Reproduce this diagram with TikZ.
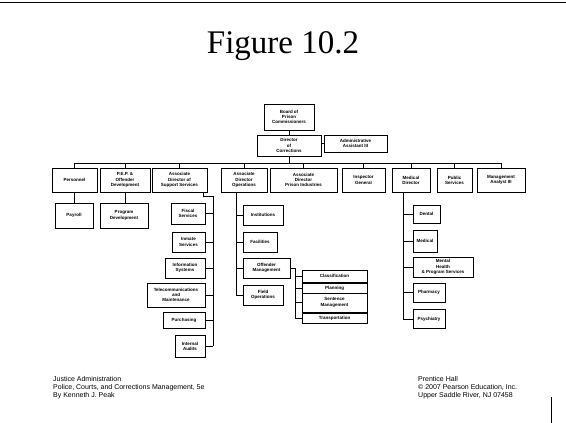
\documentclass[tikz,border=0pt]{standalone}
\usepackage{fontspec}
\setmainfont{Liberation Serif}
\newfontfamily\boxfont{Liberation Sans}
\begin{document}
\begin{tikzpicture}[x=1pt,y=-1pt,
  orgbox/.style={draw=black, line width=0.85pt, inner sep=0pt, align=center,
    font=\boxfont\bfseries\fontsize{4.5}{5.2}\selectfont},
  link/.style={draw=black, line width=0.75pt},
  foot/.style={anchor=north west, align=left, inner sep=0pt,
    font=\boxfont\fontsize{7}{8}\selectfont}]
\useasboundingbox (0,0) rectangle (566,423);

% slide frame
\draw[line width=0.6pt] (0,2.5) -- (566,2.5);
\draw[line width=0.6pt] (551,397) -- (551,423);

% title
\node[font=\fontsize{33}{36}\selectfont] (title) at (283,46) {Figure 10.2};

% top of the chart
\node[orgbox, minimum width=50pt, minimum height=26pt] (board) at (289,117) {Board of\\Prison\\Commissioners};
\node[orgbox, minimum width=64pt, minimum height=21pt] (dir) at (289,145.5) {Director\\of\\Corrections};
\node[orgbox, minimum width=63pt, minimum height=17pt] (admin) at (355.5,143.5) {Administrative\\Assistant III};

% second level
\node[orgbox, minimum width=45pt, minimum height=24pt] (pers) at (74.5,180) {Personnel};
\node[orgbox, minimum width=50pt, minimum height=24pt] (pep) at (125,180) {P.E.P. \&\\Offender\\Development};
\node[orgbox, minimum width=55pt, minimum height=24pt] (supp) at (179.5,180) {Associate\\Director of\\Support Services};
\node[orgbox, minimum width=46pt, minimum height=24pt] (ops) at (244,180) {Associate\\Director\\Operations};
\node[orgbox, minimum width=67pt, minimum height=24pt] (ind) at (303.5,180) {Associate\\Director\\Prison Industries};
\node[orgbox, minimum width=43pt, minimum height=24pt] (ig) at (363.5,180) {Inspector\\General};
\node[orgbox, minimum width=38pt, minimum height=24pt] (med) at (411,180) {Medical\\Director};
\node[orgbox, minimum width=35pt, minimum height=24pt] (pub) at (454.5,180) {Public\\Services};
\node[orgbox, minimum width=48pt, minimum height=24pt] (mgmt) at (501,180) {Management\\Analyst III};

% under personnel and P.E.P.
\node[orgbox, minimum width=38pt, minimum height=25pt] (payroll) at (74,215.5) {Payroll};
\node[orgbox, minimum width=48pt, minimum height=25pt] (progdev) at (124,215.5) {Program\\Development};

% support services
\node[orgbox, minimum width=34pt, minimum height=21pt] (fiscal) at (188,213.5) {Fiscal\\Services};
\node[orgbox, minimum width=33pt, minimum height=20pt] (inmate) at (188.5,242) {Inmate\\Services};
\node[orgbox, minimum width=40pt, minimum height=20pt] (info) at (185,268) {Information\\Systems};
\node[orgbox, minimum width=58pt, minimum height=24pt] (tele) at (176,295) {Telecommunications\\and\\Maintenance};
\node[orgbox, minimum width=42pt, minimum height=16pt] (purch) at (184,320) {Purchasing};
\node[orgbox, minimum width=30pt, minimum height=22pt] (audit) at (190,346) {Internal\\Audits};

% operations
\node[orgbox, minimum width=40pt, minimum height=20pt] (inst) at (263,215) {Institutions};
\node[orgbox, minimum width=34pt, minimum height=20pt] (fac) at (260,242) {Facilities};
\node[orgbox, minimum width=47pt, minimum height=20pt] (om) at (266.5,268) {Offender\\Management};
\node[orgbox, minimum width=40pt, minimum height=20pt] (field) at (263,295) {Field\\Operations};

% offender management
\node[orgbox, minimum width=65pt, minimum height=12pt] (class) at (334.5,276) {Classification};
\node[orgbox, minimum width=65pt, minimum height=10pt] (plan) at (334.5,288) {Planning};
\node[orgbox, minimum width=65pt, minimum height=19pt] (sent) at (334.5,302.5) {Sentence\\Management};
\node[orgbox, minimum width=65pt, minimum height=10pt] (trans) at (334.5,318) {Transportation};

% medical
\node[orgbox, minimum width=27pt, minimum height=18pt] (dental) at (426.5,214) {Dental};
\node[orgbox, minimum width=24pt, minimum height=22pt] (medic) at (425,241) {Medical};
\node[orgbox, minimum width=60pt, minimum height=20pt] (mental) at (443,267) {Mental\\Health\\\& Program Services};
\node[orgbox, minimum width=32pt, minimum height=19pt] (pharm) at (429,292.5) {Pharmacy};
\node[orgbox, minimum width=32pt, minimum height=19pt] (psych) at (429,319) {Psychiatry};

% connectors
\coordinate (busL) at (74.5,163);
\coordinate (busR) at (501,163);
\draw[link] (board) -- (dir);
\draw[link] (admin.west) -- (admin.west -| dir.east);
\draw[link] (dir.south) -- (dir.south |- busL);
\draw[link] (busL) -- (busR);
\foreach \n in {pers,pep,supp,ops,ind,ig,med,pub,mgmt}
  \draw[link] (\n.north |- busL) -- (\n.north);
\draw[link] (pers.south) -- (pers.south |- payroll.north);
\draw[link] (pep.south) -- (pep.south |- progdev.north);

\coordinate (sbot) at (213,346);
\draw[link] ([xshift=-4pt]supp.south east) -- ++(0,4) -| (sbot);
\foreach \n in {fiscal,inmate,info,tele,purch,audit}
  \draw[link] (\n.east) -- (\n.east -| sbot);

\coordinate (obot) at (236,295);
\draw[link] (ops.south -| obot) -- (obot);
\foreach \n in {inst,fac,om,field}
  \draw[link] (\n.west -| obot) -- (\n.west);

\coordinate (mbot) at (295,318);
\draw[link] (om.east) -- (om.east -| mbot) -- (mbot);
\foreach \n in {class,plan,sent,trans}
  \draw[link] (\n.west -| mbot) -- (\n.west);

\coordinate (dbot) at (403,319);
\draw[link] (med.south -| dbot) -- (dbot);
\foreach \n in {dental,medic,mental,pharm,psych}
  \draw[link] (\n.west -| dbot) -- (\n.west);

% footer
\node[foot] (footl) at (53,376) {Justice Administration\\Police, Courts, and Corrections Management, 5e\\By Kenneth J. Peak};
\node[foot] (footr) at (418,376) {Prentice Hall\\\textcopyright\ 2007 Pearson Education, Inc.\\Upper Saddle River, NJ 07458};
\end{tikzpicture}
\end{document}
